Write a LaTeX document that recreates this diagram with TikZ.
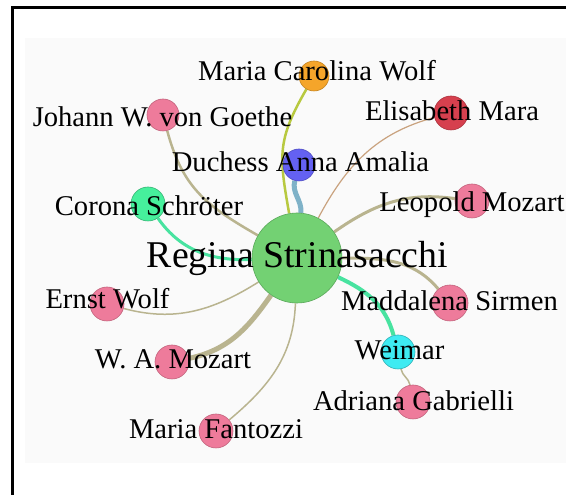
\documentclass[tikz,border=0pt]{standalone}
\usepackage{fontspec}
\setmainfont{Liberation Serif}
\pgfdeclarelayer{bg}
\pgfdeclarelayer{edges}
\pgfsetlayers{bg,edges,main}
\definecolor{pinkfill}{HTML}{EE7B9B}
\definecolor{pinkline}{HTML}{C2637C}
\definecolor{orangefill}{HTML}{F5A52A}
\definecolor{redfill}{HTML}{D6404E}
\definecolor{bluefill}{HTML}{6461F2}
\definecolor{hubfill}{HTML}{73D173}
\definecolor{hubline}{HTML}{5AA85A}
\definecolor{mintfill}{HTML}{46F09C}
\definecolor{cyanfill}{HTML}{3EEBF2}
\definecolor{panel}{HTML}{FAFAFA}
\definecolor{tan}{HTML}{B9B48F}
\definecolor{brownish}{HTML}{C9A27E}
\definecolor{olive}{HTML}{B8C940}
\definecolor{steel}{HTML}{7FB2C8}
\definecolor{mintedge}{HTML}{48E3A0}
\tikzset{
  x=1pt, y=1pt,
  person/.style={circle, inner sep=0pt, minimum size=#1, line width=0.6pt},
  pinknode/.style={person=34pt, fill=pinkfill, draw=pinkline},
  lbl/.style={inner sep=0pt, font=\fontsize{28.6}{30}\selectfont, text height=0.66em, text depth=0pt},
  biglbl/.style={inner sep=0pt, font=\fontsize{37.8}{40}\selectfont, text height=0.66em, text depth=0pt},
  link/.style={line width=#1, color=tan},
  link/.default=1.5pt
}
\begin{document}
\begin{tikzpicture}
\useasboundingbox (0,0) rectangle (566,495);
\begin{pgfonlayer}{bg}
  \fill[panel] (25,32) rectangle (566,457);
  \draw[line width=3pt] (12,-5) -- (12,487) -- (580,487);
\end{pgfonlayer}

% people
\node[person=90pt, fill=hubfill, draw=hubline] (R) at (297,237) {};
\node[person=30pt, fill=orangefill, draw=orangefill!80!black] (MCW) at (314,419) {};
\node[pinknode, minimum size=32pt] (JWG) at (163,380) {};
\node[person=34pt, fill=redfill, draw=redfill!80!black] (EM) at (451,382) {};
\node[person=32pt, fill=bluefill, draw=bluefill!80!black] (DAA) at (299,330) {};
\node[person=34pt, fill=mintfill, draw=mintfill!75!black] (CS) at (148,291) {};
\node[pinknode] (LM) at (472,294) {};
\node[pinknode] (EW) at (107,191) {};
\node[pinknode, minimum size=36pt] (MS) at (450,192) {};
\node[pinknode] (WAM) at (172,133) {};
\node[person=34pt, fill=cyanfill, draw=cyanfill!75!black] (W) at (398,143) {};
\node[pinknode] (AG) at (413,93) {};
\node[pinknode] (MF) at (216,64) {};

% ties
\begin{pgfonlayer}{edges}
  \draw[link=2.5pt, color=olive] (R) to[out=100, in=240, looseness=1.2] (MCW);
  \draw[link=5pt, color=steel] (R) to[out=85, in=255] (DAA);
  \draw[link=1.2pt, color=brownish] (R) to[out=62, in=195] (EM);
  \draw[link=3pt] (R) to[out=35, in=172] (LM);
  \draw[link=2.5pt] (R) to[out=150, in=285, looseness=1.1] (JWG);
  \draw[link=3pt, color=mintedge] (R) to[out=182, in=305] (CS);
  \draw[link=1.5pt] (R) to[out=212, in=345] (EW);
  \draw[link=5pt] (R) to[out=235, in=12] (WAM);
  \draw[link=1.5pt] (R) to[out=268, in=40] (MF);
  \draw[link=4pt, color=mintedge] (R) to[out=335, in=105] (W);
  \draw[link=3pt] (R) to[out=0, in=130] (MS);
  \draw[link=1.5pt] (W) to[out=280, in=100] (AG);
\end{pgfonlayer}

% names
\node[biglbl] (R-t) at (297.5,231) {Regina Strinasacchi};
\node[lbl] (MCW-t) at (317,418) {Maria Carolina Wolf};
\node[lbl] (JWG-t) at (162.5,372) {Johann W. von Goethe};
\node[lbl] (EM-t) at (452,378) {Elisabeth Mara};
\node[lbl] (DAA-t) at (300.5,327) {Duchess Anna Amalia};
\node[lbl] (CS-t) at (149,283) {Corona Schröter};
\node[lbl] (LM-t) at (472,287) {Leopold Mozart};
\node[lbl] (EW-t) at (107.5,190) {Ernst Wolf};
\node[lbl] (MS-t) at (449.5,188) {Maddalena Sirmen};
\node[lbl] (WAM-t) at (173,130) {W. A. Mozart};
\node[lbl] (W-t) at (399.5,139) {Weimar};
\node[lbl] (AG-t) at (413.5,88) {Adriana Gabrielli};
\node[lbl] (MF-t) at (216,60) {Maria Fantozzi};
\end{tikzpicture}
\end{document}
